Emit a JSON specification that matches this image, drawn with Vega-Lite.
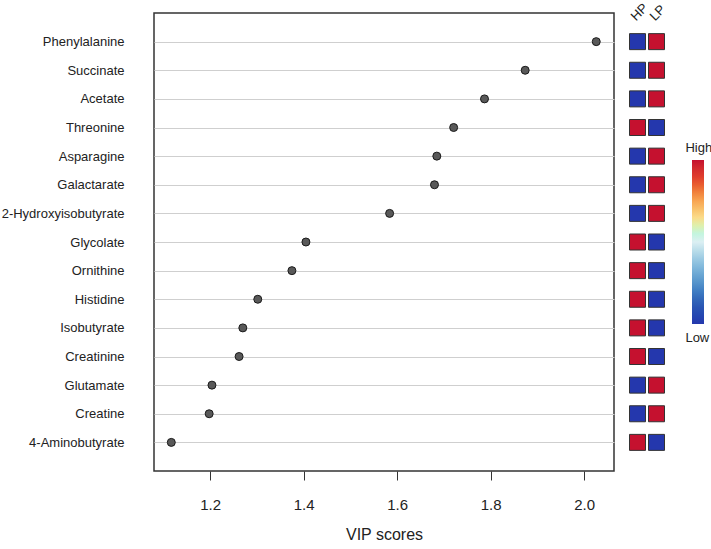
{
  "$schema": "https://vega.github.io/schema/vega-lite/v6.json",
  "background": "white",
  "padding": {"left": 0, "top": 1, "right": 0, "bottom": 0},
  "config": {
    "font": "Liberation Sans",
    "view": {"stroke": null},
    "axis": {"labelColor": "#222222", "titleColor": "#222222", "labelFont": "Liberation Sans", "titleFont": "Liberation Sans"},
    "legend": {"labelFont": "Liberation Sans", "labelColor": "#222222"}
  },
  "datasets": {
    "vip": [
      {"name": "Phenylalanine", "vip": 2.026, "HP": 0, "LP": 1},
      {"name": "Succinate", "vip": 1.874, "HP": 0, "LP": 1},
      {"name": "Acetate", "vip": 1.787, "HP": 0, "LP": 1},
      {"name": "Threonine", "vip": 1.721, "HP": 1, "LP": 0},
      {"name": "Asparagine", "vip": 1.685, "HP": 0, "LP": 1},
      {"name": "Galactarate", "vip": 1.680, "HP": 0, "LP": 1},
      {"name": "2-Hydroxyisobutyrate", "vip": 1.584, "HP": 0, "LP": 1},
      {"name": "Glycolate", "vip": 1.405, "HP": 1, "LP": 0},
      {"name": "Ornithine", "vip": 1.375, "HP": 1, "LP": 0},
      {"name": "Histidine", "vip": 1.302, "HP": 1, "LP": 0},
      {"name": "Isobutyrate", "vip": 1.270, "HP": 1, "LP": 0},
      {"name": "Creatinine", "vip": 1.262, "HP": 1, "LP": 0},
      {"name": "Glutamate", "vip": 1.204, "HP": 0, "LP": 1},
      {"name": "Creatine", "vip": 1.198, "HP": 0, "LP": 1},
      {"name": "4-Aminobutyrate", "vip": 1.117, "HP": 1, "LP": 0}
    ]
  },
  "spacing": 12,
  "hconcat": [
    {
      "width": 460,
      "height": 458,
      "view": {"stroke": "#333333", "strokeWidth": 1.5},
      "data": {"name": "vip"},
      "mark": {"type": "circle", "size": 64, "fill": "#595959", "stroke": "#1a1a1a", "strokeWidth": 1, "opacity": 1},
      "encoding": {
        "x": {
          "field": "vip", "type": "quantitative",
          "scale": {"domain": [1.08, 2.064], "nice": false, "zero": false},
          "axis": {"title": "VIP scores", "values": [1.2, 1.4, 1.6, 1.8, 2.0], "format": ".1f", "grid": false, "domain": false, "tickSize": 9, "tickColor": "#333333", "tickWidth": 1, "labelFontSize": 15, "labelPadding": 17, "titleFontSize": 16, "titlePadding": 14, "titleFontWeight": "normal"}
        },
        "y": {
          "field": "name", "type": "nominal", "sort": null,
          "scale": {"type": "point", "padding": 1},
          "axis": {"title": null, "ticks": false, "domain": false, "labelPadding": 30, "labelFontSize": 13, "grid": true, "gridColor": "#cfcfcf", "gridWidth": 1}
        }
      }
    },
    {
      "width": 38,
      "height": 458,
      "data": {"name": "vip"},
      "transform": [{"fold": ["HP", "LP"], "as": ["group", "level"]}],
      "mark": {"type": "square", "size": 256, "opacity": 1, "stroke": "#333333", "strokeWidth": 1},
      "encoding": {
        "x": {
          "field": "group", "type": "nominal",
          "scale": {"type": "point", "padding": 0.5},
          "axis": {"orient": "top", "title": null, "labelAngle": -45, "domain": false, "ticks": false, "labelPadding": -10, "labelFontSize": 13}
        },
        "y": {
          "field": "name", "type": "nominal", "sort": null,
          "scale": {"type": "point", "padding": 1},
          "axis": null
        },
        "color": {
          "field": "level", "type": "quantitative",
          "scale": {"domain": [0, 1], "range": ["#2437ad", "#2e5bb3", "#5493cb", "#8fc2e0", "#dceff3", "#fde79a", "#f8a552", "#e5452c", "#c5112f"]},
          "legend": {
            "orient": "none", "legendX": 538, "legendY": 147, "padding": 0,
            "title": null, "direction": "vertical", "gradientLength": 164, "gradientThickness": 12, "gradientStrokeWidth": 0,
            "values": [-0.125, 1.11], "labelExpr": "datum.value > 0.5 ? 'High' : 'Low'", "labelFontSize": 13, "labelOffset": -18.6, "labelOverlap": false, "labelLimit": 0
          }
        }
      }
    }
  ]
}
